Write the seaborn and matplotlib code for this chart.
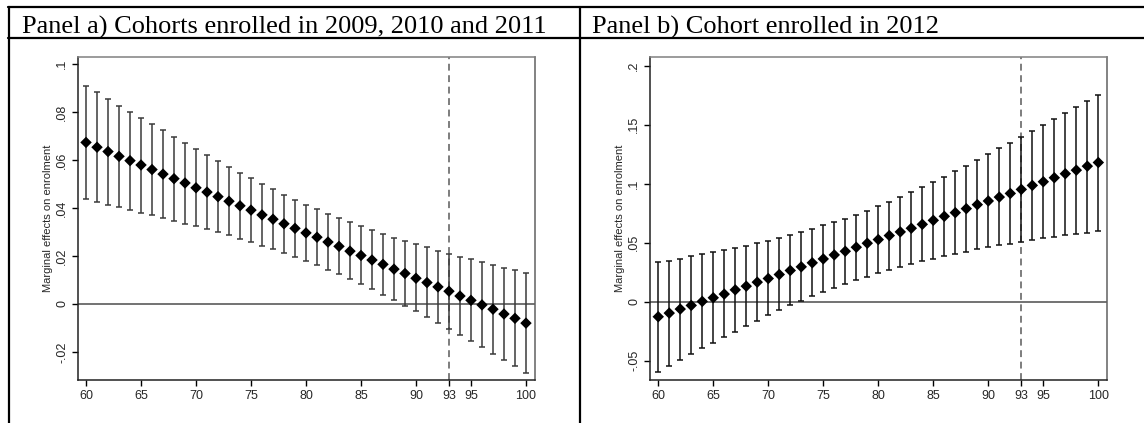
import numpy as np
import pandas as pd
import seaborn as sns
import matplotlib
matplotlib.use("Agg")
import matplotlib.pyplot as plt
from matplotlib.lines import Line2D
from matplotlib.ticker import FuncFormatter, FixedLocator

# Income thresholds (x axis)
thresholds = list(range(60, 101))

# Panel a) cohorts enrolled in 2009, 2010 and 2011
effect_a = [0.0673, 0.0653, 0.0635, 0.0615, 0.0597, 0.0579, 0.0560, 0.0541, 0.0522, 0.0504,
            0.0484, 0.0466, 0.0447, 0.0428, 0.0409, 0.0391, 0.0371, 0.0353, 0.0334, 0.0315,
            0.0296, 0.0278, 0.0258, 0.0240, 0.0220, 0.0202, 0.0183, 0.0165, 0.0145, 0.0127,
            0.0107, 0.0089, 0.0071, 0.0053, 0.0033, 0.0015, -0.0004, -0.0022, -0.0042, -0.0060,
            -0.0080]
upper_a = [0.0907, 0.0882, 0.0854, 0.0826, 0.0801, 0.0776, 0.0748, 0.0723, 0.0696, 0.0671,
           0.0645, 0.0620, 0.0594, 0.0571, 0.0547, 0.0523, 0.0501, 0.0479, 0.0455, 0.0434,
           0.0413, 0.0394, 0.0375, 0.0357, 0.0340, 0.0324, 0.0307, 0.0292, 0.0276, 0.0262,
           0.0248, 0.0236, 0.0222, 0.0209, 0.0197, 0.0186, 0.0174, 0.0162, 0.0151, 0.0140,
           0.0127]
lower_a = [0.0437, 0.0424, 0.0413, 0.0402, 0.0391, 0.0381, 0.0370, 0.0357, 0.0346, 0.0335,
           0.0324, 0.0311, 0.0299, 0.0286, 0.0272, 0.0258, 0.0243, 0.0229, 0.0212, 0.0195,
           0.0179, 0.0162, 0.0142, 0.0124, 0.0103, 0.0082, 0.0061, 0.0039, 0.0017, -0.0007,
           -0.0031, -0.0054, -0.0080, -0.0103, -0.0130, -0.0155, -0.0180, -0.0207, -0.0233, -0.0258,
           -0.0286]

# Panel b) cohort enrolled in 2012
effect_b = [-0.0127, -0.0096, -0.0062, -0.0031, 0.0003, 0.0034, 0.0065, 0.0101, 0.0132, 0.0166,
            0.0197, 0.0231, 0.0265, 0.0296, 0.0330, 0.0363, 0.0397, 0.0428, 0.0462, 0.0496,
            0.0527, 0.0561, 0.0592, 0.0623, 0.0656, 0.0690, 0.0724, 0.0755, 0.0789, 0.0823,
            0.0854, 0.0887, 0.0918, 0.0952, 0.0986, 0.1017, 0.1051, 0.1085, 0.1115, 0.1149,
            0.1180]
upper_b = [0.0341, 0.0349, 0.0366, 0.0386, 0.0403, 0.0423, 0.0439, 0.0459, 0.0476, 0.0496,
           0.0518, 0.0541, 0.0566, 0.0589, 0.0617, 0.0648, 0.0676, 0.0704, 0.0735, 0.0769,
           0.0808, 0.0845, 0.0887, 0.0927, 0.0972, 0.1011, 0.1056, 0.1104, 0.1149, 0.1197,
           0.1248, 0.1299, 0.1346, 0.1394, 0.1448, 0.1496, 0.1549, 0.1597, 0.1651, 0.1701,
           0.1755]
lower_b = [-0.0594, -0.0541, -0.0490, -0.0439, -0.0394, -0.0349, -0.0299, -0.0254, -0.0206, -0.0161,
           -0.0115, -0.0070, -0.0028, 0.0008, 0.0045, 0.0082, 0.0118, 0.0152, 0.0183, 0.0214,
           0.0242, 0.0270, 0.0296, 0.0321, 0.0344, 0.0366, 0.0386, 0.0406, 0.0425, 0.0445,
           0.0462, 0.0479, 0.0493, 0.0507, 0.0524, 0.0538, 0.0549, 0.0563, 0.0575, 0.0586,
           0.0597]

x_ticks = [60, 65, 70, 75, 80, 85, 90, 93, 95, 100]
y_ticks_a = [-0.02, 0, 0.02, 0.04, 0.06, 0.08, 0.1]
y_ticks_b = [-0.05, 0, 0.05, 0.1, 0.15, 0.2]
cutoff = 93

header_a = "Panel a) Cohorts enrolled in 2009, 2010 and 2011"
header_b = "Panel b) Cohort enrolled in 2012"
y_title = "Marginal effects on enrolment"

sns.set_theme(style="white")
plt.rcParams["font.family"] = ["Liberation Sans", "DejaVu Sans"]

W, H = 1144, 423
fig = plt.figure(figsize=(W / 100, H / 100), dpi=100)
fig.patch.set_facecolor("white")


def px_axes(left, top, right, bottom):
    return fig.add_axes([left / W, 1 - bottom / H, (right - left) / W, (bottom - top) / H])


def stata_fmt(v, _pos=None):
    if abs(v) < 1e-12:
        return "0"
    s = f"{v:.2f}".rstrip("0").rstrip(".")
    return s.replace("0.", ".")


def draw_panel(ax, eff, lo, hi, yticks, ylim, xlim, bar_color):
    df = pd.DataFrame({"x": thresholds, "eff": eff, "lo": lo, "hi": hi})
    ax.axhline(0, color="#5a5a5a", lw=1.2, zorder=1)
    ax.axvline(cutoff, color="#5a5a5a", lw=1.1, ls=(0, (4.5, 3)), zorder=1)
    ax.errorbar(df["x"], df["eff"],
                yerr=[df["eff"] - df["lo"], df["hi"] - df["eff"]],
                fmt="none", ecolor=bar_color, elinewidth=1.1, capsize=2.4, capthick=1.1, zorder=2)
    sns.scatterplot(data=df, x="x", y="eff", marker="D", s=34, color="black",
                    edgecolor="none", linewidth=0, ax=ax, zorder=3, legend=False)
    ax.set_xlim(*xlim)
    ax.set_ylim(*ylim)
    ax.xaxis.set_major_locator(FixedLocator(x_ticks))
    ax.yaxis.set_major_locator(FixedLocator(yticks))
    ax.yaxis.set_major_formatter(FuncFormatter(stata_fmt))
    ax.set_xlabel("")
    ax.set_ylabel(y_title, fontsize=8, labelpad=2.5)
    ax.tick_params(axis="both", direction="out", length=4, width=1, color="black",
                   labelsize=9, pad=3, bottom=True, left=True)
    ax.tick_params(axis="y", labelrotation=90)
    for lab in ax.get_yticklabels():
        lab.set_va("center")
    for side in ("left", "bottom"):
        ax.spines[side].set_color("#222222")
        ax.spines[side].set_linewidth(1.1)
    ax.spines["top"].set_color("#808080")
    ax.spines["top"].set_linewidth(1.1)
    ax.spines["right"].set_color("#606060")
    ax.spines["right"].set_linewidth(1.1)
    ax.grid(False)
    ax.set_facecolor("white")


ax_a = px_axes(78, 57, 535, 380)
draw_panel(ax_a, effect_a, lower_a, upper_a, y_ticks_a, (-0.0317, 0.1029), (59.27, 100.82), "#3a3a3a")

ax_b = px_axes(650, 57, 1106.7, 380)
draw_panel(ax_b, effect_b, lower_b, upper_b, y_ticks_b, (-0.0663, 0.2074), (59.25, 100.76), "#111111")

# table rules around the two panels
def hline(y, x0=0, x1=W):
    fig.add_artist(Line2D([x0 / W, x1 / W], [1 - y / H, 1 - y / H], color="black", lw=1.6,
                          transform=fig.transFigure))


def vline(x, y0, y1=H):
    fig.add_artist(Line2D([x / W, x / W], [1 - y0 / H, 1 - y1 / H], color="black", lw=1.6,
                          transform=fig.transFigure))


hline(7, 8)
hline(38.5, 8)
vline(8.5, 7)
vline(580, 7)

fig.text(22 / W, 1 - 34 / H, header_a, family=["Liberation Serif", "DejaVu Serif"],
         fontsize=19, va="baseline", ha="left", color="black")
fig.text(592 / W, 1 - 34 / H, header_b, family=["Liberation Serif", "DejaVu Serif"],
         fontsize=19, va="baseline", ha="left", color="black")

fig.savefig("out.png", dpi=100, facecolor="white")
